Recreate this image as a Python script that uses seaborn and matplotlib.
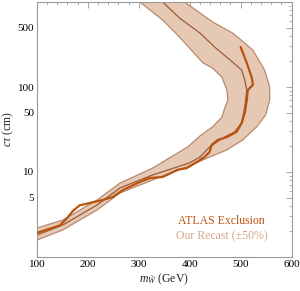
import numpy as np
import pandas as pd
import matplotlib
matplotlib.use("Agg")
import matplotlib.pyplot as plt
import seaborn as sns
from matplotlib.ticker import FixedLocator, FixedFormatter, NullFormatter

# -----------------------------
# Data
# -----------------------------
# recast band, outer (lower/right) edge, from low mass up to the top
outer_m = [100, 151, 218, 263, 327, 400, 439, 473, 504, 531, 549, 557, 557, 547, 524, 494, 484, 445, 390]
outer_ct = [1.58, 2.08, 3.57, 5.66, 8.05, 11.8, 15.0, 18.2, 23.8, 33.8, 46.9, 70.3, 100, 158, 272, 387, 432, 582, 1000]

# recast band, inner (upper/left) edge, from the top back down
inner_m = [302, 347, 380, 426, 445, 463, 473, 475, 469, 463, 445, 420, 396, 327, 263, 218, 151, 100]
inner_ct = [1000, 614, 387, 192, 167, 131, 92, 70, 57, 44, 34, 26.5, 19.7, 11.1, 7.4, 4.68, 2.72, 2.19]

# central recast curve
recast_m = [100, 151, 218, 263, 327, 400, 420, 439, 465, 488, 502, 508, 512, 508, 502, 484, 451, 420, 380, 347]
recast_ct = [1.81, 2.38, 4.09, 6.48, 9.22, 12.8, 15.0, 19.7, 25.1, 29.6, 37.7, 58.2, 92, 121, 158, 197, 288, 432, 648, 1000]

# ATLAS exclusion curve
atlas_m = [100, 125, 145, 159, 171, 184, 204, 229, 249, 269, 302, 322, 347, 376, 394, 414, 429, 439,
           443, 455, 473, 492, 502, 508, 512, 514, 524, 522, 512, 500]
atlas_ct = [1.92, 2.15, 2.35, 2.85, 3.5, 4.05, 4.32, 4.68, 5.08, 6.14, 7.63, 8.5, 8.73, 10.6, 11.1, 13.1, 15.0, 17.2,
            20.8, 23.8, 25.8, 29.6, 37.7, 49.4, 70.3, 92, 106, 128, 192, 296]

x_ticks = [100, 200, 300, 400, 500, 600]
y_major = [1, 5, 10, 50, 100, 500, 1000]
y_labels = ["", "5", "10", "50", "100", "500", ""]

band_fill = "#e6c9b4"
band_edge = "#b88a6c"
recast_col = "#9e5a36"
atlas_col = "#b8520f"
recast_text = "#d6a585"
frame_col = "#9a9a9a"

# -----------------------------
# Plot
# -----------------------------
sns.set_theme(style="white")
plt.rcParams['font.family'] = ['Liberation Serif', 'DejaVu Serif']
plt.rcParams['mathtext.fontset'] = 'custom'
plt.rcParams['mathtext.rm'] = 'Liberation Serif'
plt.rcParams['mathtext.it'] = 'Liberation Serif:italic'

fig = plt.figure(figsize=(3.0, 2.91), dpi=100)
ax = fig.add_axes([0.123, 0.117, 0.849, 0.876])

ax.fill(outer_m + inner_m, outer_ct + inner_ct, facecolor=band_fill, edgecolor=band_edge, lw=0.9, zorder=1)

recast = pd.DataFrame({"m": recast_m, "ct": recast_ct})
atlas = pd.DataFrame({"m": atlas_m, "ct": atlas_ct})
sns.lineplot(data=recast, x="m", y="ct", sort=False, estimator=None, color=recast_col, lw=0.9, ax=ax, zorder=2)
sns.lineplot(data=atlas, x="m", y="ct", sort=False, estimator=None, color=atlas_col, lw=1.6, ax=ax, zorder=3)

ax.set_yscale("log")
ax.set_xlim(100, 600)
ax.set_ylim(1, 1000)

ax.xaxis.set_major_locator(FixedLocator(x_ticks))
ax.xaxis.set_minor_locator(FixedLocator(np.arange(100, 601, 20)))
ax.yaxis.set_major_locator(FixedLocator(y_major))
ax.yaxis.set_major_formatter(FixedFormatter(y_labels))
minor_y = [d * k for d in (1, 10, 100) for k in range(2, 10) if k != 5]
ax.yaxis.set_minor_locator(FixedLocator(minor_y))
ax.yaxis.set_minor_formatter(NullFormatter())

ax.tick_params(which="both", direction="in", top=True, right=True, color=frame_col,
               labelsize=8, labelcolor="black", pad=2)
ax.tick_params(which="major", length=4, width=0.6)
ax.tick_params(which="minor", length=2, width=0.5)
for s in ax.spines.values():
    s.set_color(frame_col)
    s.set_linewidth(0.8)

ax.set_xlabel(r"$m_{\tilde{W}}$ (GeV)", fontsize=8.5, labelpad=2)
ax.set_ylabel(r"$c\tau$ (cm)", fontsize=8.5, labelpad=1)

ax.text(463, 2.65, "ATLAS Exclusion", color=atlas_col, fontsize=8.5, ha="center", va="center")
ax.text(463, 1.73, "Our Recast (\u00b150%)", color=recast_text, fontsize=8.5, ha="center", va="center")

plt.savefig("out.png", dpi=100)
